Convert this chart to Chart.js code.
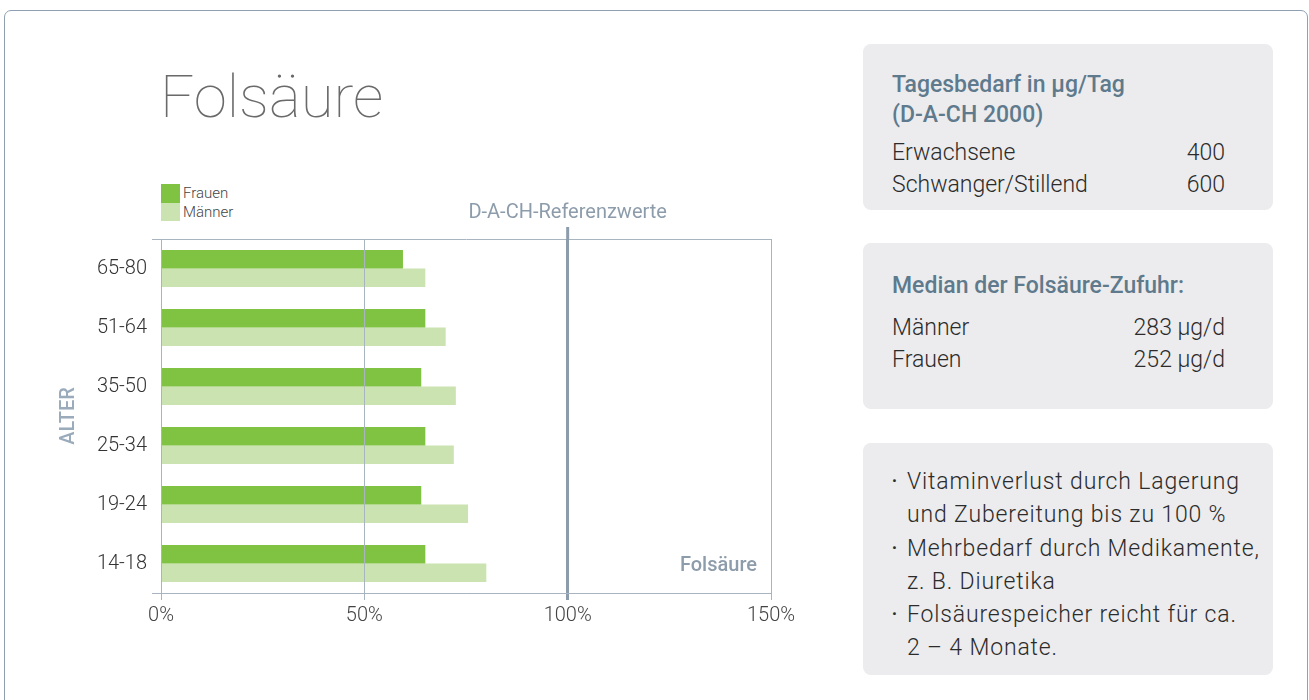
<!DOCTYPE html>
<html>
<head>
<meta charset="utf-8">
<script src="https://cdn.jsdelivr.net/npm/chart.js@4/dist/chart.umd.min.js"></script>
<style>
    body { margin: 0; width: 1309px; height: 700px; overflow: hidden; background: #fff; font-family: Roboto, "Noto Sans", sans-serif; }
    .frame { position: absolute; left: 4px; top: 10px; width: 1302px; height: 720px; border: 1.5px solid #8ea0b2; border-radius: 7px; }
    .title { position: absolute; left: 160px; top: 67px; font-size: 60px; line-height: 60px; font-weight: 100; color: #6a6a6a; }
    .legend { position: absolute; left: 161px; top: 184px; font-size: 15px; color: #444; font-weight: 300; }
    .legend div { height: 18.5px; line-height: 18.5px; }
    .legend span { display: inline-block; width: 19px; height: 18.5px; vertical-align: top; margin-right: 3px; }
    #wrap { position: absolute; left: 20px; top: 190px; width: 800px; height: 470px; }
    .panel { position: absolute; left: 863px; width: 410px; background: #ececee; border-radius: 8px; box-sizing: border-box; padding-left: 29px; padding-right: 48px; }
    .panel h3 { margin: 0; font-size: 23px; line-height: 30px; font-weight: 500; color: #5e7a8c; }
    .row { display: flex; justify-content: space-between; font-size: 23px; line-height: 32px; font-weight: 300; color: #2b2b2b; }
    .panel ul { margin: 0; padding: 0; list-style: none; font-size: 23px; line-height: 33.3px; font-weight: 300; color: #2b2b2b; letter-spacing: 0.85px; white-space: nowrap; }
    .panel li { position: relative; padding-left: 15px; }
    .panel li::before { content: "\2022"; position: absolute; left: 0; font-size: 15px; }
</style>
</head>
<body>
<div class="frame"></div>
<div class="title">Folsäure</div>
<div class="legend">
    <div><span style="background:#80c241"></span>Frauen</div>
    <div><span style="background:#cbe3b0"></span>Männer</div>
</div>
<div id="wrap"><canvas id="chart" width="800" height="470"></canvas></div>

<div class="panel" style="top:44px;height:166px;padding-top:26px">
    <h3>Tagesbedarf in µg/Tag<br>(D-A-CH 2000)</h3>
    <div class="row" style="margin-top:7px"><span>Erwachsene</span><span>400</span></div>
    <div class="row"><span>Schwanger/Stillend</span><span>600</span></div>
</div>
<div class="panel" style="top:243px;height:166px;padding-top:28px">
    <h3>Median der Folsäure-Zufuhr:</h3>
    <div class="row" style="margin-top:11px"><span>Männer</span><span>283 µg/d</span></div>
    <div class="row"><span>Frauen</span><span>252 µg/d</span></div>
</div>
<div class="panel" style="top:443px;height:232px;padding-top:22px;padding-right:10px">
    <ul>
        <li>Vitaminverlust durch Lagerung<br>und Zubereitung bis zu 100 %</li>
        <li>Mehrbedarf durch Medikamente,<br>z. B. Diuretika</li>
        <li>Folsäurespeicher reicht für ca.<br>2 – 4 Monate.</li>
    </ul>
</div>

<script>
    // values in % of the D-A-CH reference
    const ageGroups = ['65-80', '51-64', '35-50', '25-34', '19-24', '14-18'];
    const frauen = [59.5, 65, 64, 65, 64, 65];
    const maenner = [65, 70, 72.5, 72, 75.5, 80];
    const xTicks = [0, 50, 100, 150];
    const refValue = 100;
    const refLabel = 'D-A-CH-Referenzwerte';
    const seriesName = 'Folsäure';

    const gridColor = '#a9b4c1';
    const refColor = '#8d9cab';

    Chart.defaults.font.family = 'Roboto';

    const refLine = {
        id: 'refLine',
        afterDraw(chart) {
            const {ctx, chartArea, scales} = chart;
            const x = scales.x.getPixelForValue(refValue);
            ctx.save();
            ctx.strokeStyle = refColor;
            ctx.lineWidth = 3;
            ctx.beginPath();
            ctx.moveTo(x, chartArea.top - 12);
            ctx.lineTo(x, chartArea.top);
            ctx.stroke();
            ctx.fillStyle = refColor;
            ctx.textBaseline = 'middle';
            ctx.textAlign = 'center';
            ctx.font = '400 20px Roboto';
            ctx.fillText(refLabel, x, chartArea.top - 26);
            ctx.textAlign = 'right';
            ctx.font = '500 20px Roboto';
            ctx.fillText(seriesName, chartArea.right - 14, scales.y.getPixelForValue(ageGroups.length - 1) + 2);
            ctx.restore();
        }
    };

    new Chart(document.getElementById('chart'), {
        type: 'bar',
        data: {
            labels: ageGroups,
            datasets: [
                {label: 'Frauen', data: frauen, backgroundColor: '#80c241'},
                {label: 'Männer', data: maenner, backgroundColor: '#cbe3b0'}
            ]
        },
        options: {
            indexAxis: 'y',
            responsive: false,
            animation: false,
            categoryPercentage: 0.627,
            barPercentage: 1,
            layout: {padding: {top: 49, right: 49, left: 0, bottom: 0}},
            plugins: {legend: {display: false}, tooltip: {enabled: false}},
            scales: {
                x: {
                    min: 0, max: 150,
                    afterBuildTicks: s => { s.ticks = xTicks.map(v => ({value: v})); },
                    afterFit: s => { s.height = 67; },
                    border: {display: true, color: gridColor, width: 1, z: 1},
                    grid: {
                        z: 1,
                        color: c => c.tick && c.tick.value === refValue ? refColor : gridColor,
                        lineWidth: c => c.tick && c.tick.value === refValue ? 3 : 1,
                        tickLength: 7
                    },
                    ticks: {
                        callback: v => v + '%',
                        color: '#444',
                        padding: 4,
                        font: {size: 20, weight: 300}
                    }
                },
                y: {
                    afterFit: s => { s.width = 141; },
                    border: {display: true, color: gridColor, width: 1},
                    grid: {
                        color: c => (c.type !== 'tick' || c.index === 0) ? gridColor : 'transparent',
                        tickLength: 9
                    },
                    ticks: {color: '#333', padding: 5, font: {size: 20, weight: 300}},
                    title: {
                        display: true,
                        text: 'ALTER',
                        color: '#9aabbb',
                        padding: {top: 37, bottom: 0},
                        font: {size: 20, weight: 500}
                    }
                }
            }
        },
        plugins: [refLine]
    });
</script>
</body>
</html>
